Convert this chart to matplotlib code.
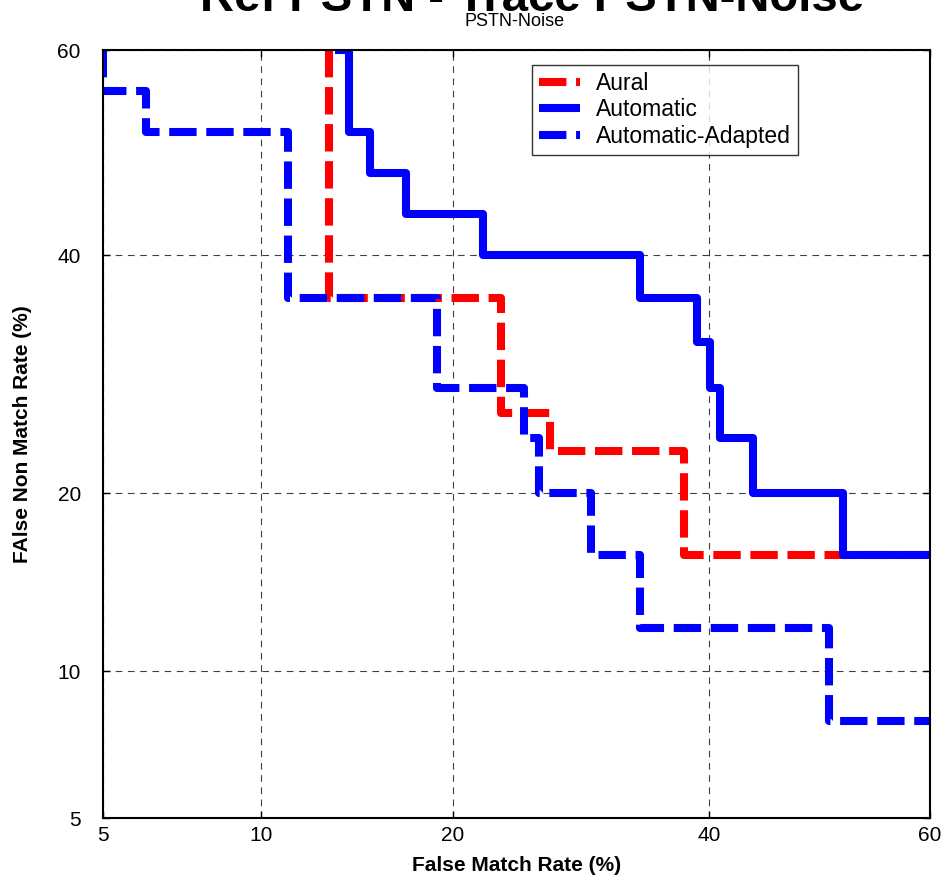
import numpy as np
import matplotlib
matplotlib.use("Agg")
import matplotlib.pyplot as plt
from statistics import NormalDist

plt.rcParams['font.family'] = ['Liberation Sans', 'DejaVu Sans']

# ---- data (percent) ----
ticks = [5, 10, 20, 40, 60]
tick_labels = ['5', '10', '20', '40', '60']

aural_fmr = [13.0, 13.0, 23.2, 26.8, 37.8, 60.0]
aural_fnmr = [60.0, 36.0, 26.0, 23.0, 16.0, 16.0]

auto_fmr = [13.3, 14.0, 15.1, 17.1, 22.0, 34.0, 38.9, 40.1, 41.0, 43.9, 52.1, 60.0]
auto_fnmr = [60.0, 52.0, 48.0, 44.0, 40.0, 36.0, 32.0, 28.0, 24.0, 20.0, 16.0, 16.0]

adapt_fmr = [5.0, 5.0, 6.1, 11.1, 19.0, 24.9, 26.0, 30.0, 34.0, 50.9, 60.0]
adapt_fnmr = [60.0, 56.0, 52.0, 36.0, 28.0, 24.0, 20.0, 16.0, 12.0, 8.0, 8.0]

_nd = NormalDist()
_ppf = np.vectorize(lambda p: _nd.inv_cdf(p), otypes=[float])
_cdf = np.vectorize(lambda z: _nd.cdf(z), otypes=[float])


def fwd(p):
    p = np.clip(np.asarray(p, dtype=float) / 100.0, 1e-9, 1 - 1e-9)
    return _ppf(p)


def inv(z):
    return _cdf(np.asarray(z, dtype=float)) * 100.0


fig = plt.figure(figsize=(9.43, 8.8), dpi=100)
ax = fig.add_axes([103 / 943, 1 - 818 / 880, 827 / 943, 768 / 880])
ax.set_xscale('function', functions=(fwd, inv))
ax.set_yscale('function', functions=(fwd, inv))

dash = (0, (3.4, 1.2))
lw = 5.8
ax.plot(aural_fmr, aural_fnmr, drawstyle='steps-post', color='#ff0000', lw=lw,
        linestyle=dash, dash_capstyle='butt', solid_joinstyle='round', label='Aural')
ax.plot(auto_fmr, auto_fnmr, drawstyle='steps-post', color='#0000ff', lw=lw,
        solid_joinstyle='round', solid_capstyle='butt', label='Automatic')
ax.plot(adapt_fmr, adapt_fnmr, drawstyle='steps-post', color='#0000ff', lw=lw,
        linestyle=dash, dash_capstyle='butt', label='Automatic-Adapted')

ax.set_xlim(5, 60)
ax.set_ylim(5, 60)
ax.set_xticks(ticks)
ax.set_xticklabels(tick_labels)
ax.set_yticks(ticks)
ax.set_yticklabels(tick_labels)
ax.minorticks_off()
ax.tick_params(direction='in', length=5, width=1, top=True, right=True,
               labelsize=15)
ax.tick_params(axis='x', pad=6)
ax.tick_params(axis='y', pad=16)
ax.grid(True, linestyle=(0, (6, 5)), linewidth=0.8, color='0.25')
for s in ax.spines.values():
    s.set_linewidth(1.5)

ax.set_xlabel('False Match Rate (%)', fontsize=15, fontweight='bold', labelpad=8)
ax.set_ylabel('FAlse Non Match Rate (%)', fontsize=15, fontweight='bold', labelpad=18)

leg = ax.legend(loc='upper left', bbox_to_anchor=((532 - 103) / 827, 1 - (65 - 50) / 768),
                fontsize=16.5, frameon=True, fancybox=False, edgecolor='black',
                handlelength=1.8, borderpad=0.3, labelspacing=0.15, handletextpad=0.7,
                borderaxespad=0)
leg.get_frame().set_linewidth(1.0)

fig.text(532 / 943, 1 - 11 / 880, 'Ref PSTN - Trace PSTN-Noise', ha='center',
         va='baseline', fontsize=34, fontweight='bold')
fig.text(515 / 943, 1 - 21 / 880, 'PSTN-Noise', ha='center', va='center', fontsize=13)

fig.savefig('out.png', dpi=100)
